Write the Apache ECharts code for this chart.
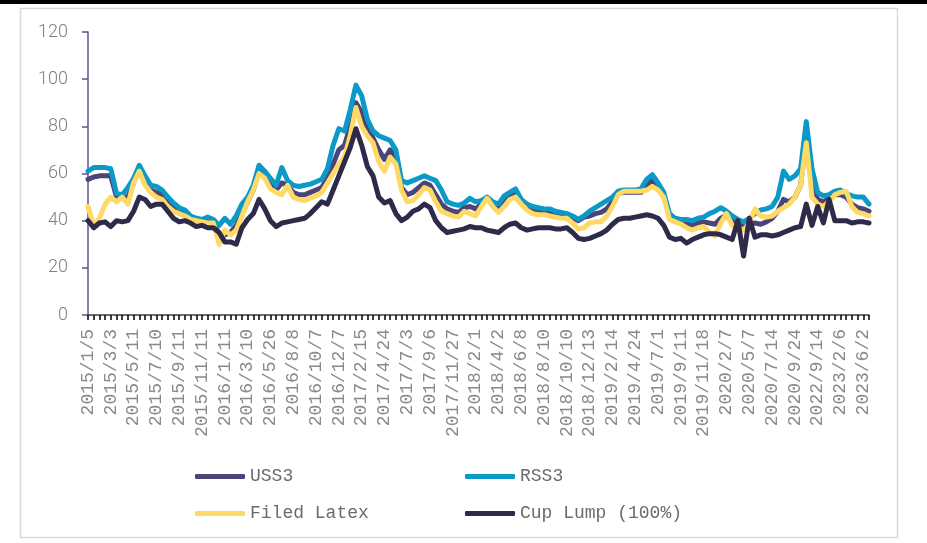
<!DOCTYPE html>
<html>
<head>
<meta charset="utf-8">
<script src="https://cdn.jsdelivr.net/npm/echarts@6/dist/echarts.min.js"></script>
<style>
html,body{margin:0;padding:0;background:#fff;}
#chart{width:927px;height:543px;}
</style>
</head>
<body>
<div id="chart"></div>
<script>
// Tick labels shown on the category axis (every 4th category)
const tickLabels = ["2015/1/5","2015/3/3","2015/5/11","2015/7/10","2015/9/11","2015/11/11","2016/1/11","2016/3/10","2016/5/26","2016/8/8","2016/10/7","2016/12/7","2017/2/15","2017/4/24","2017/7/3","2017/9/6","2017/11/27","2018/2/1","2018/4/2","2018/6/8","2018/8/10","2018/10/10","2018/12/13","2019/2/14","2019/4/24","2019/7/1","2019/9/11","2019/11/18","2020/2/7","2020/5/7","2020/7/14","2020/9/24","2022/9/14","2023/2/6","2023/6/2"];

const seriesNames = ["USS3","RSS3","Filed Latex","Cup Lump (100%)"];

const uss3 = [57.5,58.5,59,59,59,50,50,50,56,62,
57,53,52,51,48,45.5,44,43,41,40.5,
40,40.5,39.5,34,34,35,38,43,48,53,
61,59,55,53,56,55,52,51,51,52,
53,54,58,64,70,72,80,90,86,79,
75,70,66,70,66,54,51,52,54,56,
55,51,47,45,44,43.5,45.5,46,45,47,
49.5,47,45,48,50.5,51.5,48,45.5,44.5,44,
43.5,43.5,43,42,42,41,40,41.5,42,43,
43.5,45,48,51.5,52,52,52,52,55,57,
54.5,50.5,41.5,40,39.5,39,38,39,39.5,39,
38.5,41,42.5,40,38.5,38,38.5,39,38.5,39.5,
41,44,49,48,50,55,75,55,49,48,
49.5,51,51,50,47,45.5,45,44];

const rss3 = [61,62.5,62.5,62.5,62,51.5,51,54,58,63.5,
59,55,54.5,53,50,47.5,45.5,44.5,42,41,
40.5,41.5,40.5,38,41,38.5,42,47,50,55,
63.5,61,58,55,62.5,57,55,54.5,55,55.5,
56.5,57.5,62,72,79,78,87,97.5,93,83,
78,76,75,74,70,57,56,57,58,59,
58,57,53,48,47,46.5,47.5,49.5,48,48.5,
50,48,47,50.5,52,53.5,49,47,46,45.5,
45,45,44,43.5,43,42,40.5,42,44,45.5,
47,48.5,50,52.5,53,53,53,53.5,57.5,59.5,
56,52,43,41,40.5,40.5,40,41,41.5,43,
44,45.5,44,42,40.5,39.5,41,43,44.5,45,
46,50,61,57.5,59,62,82,62,52,50.5,
51,52.5,53,51.5,50.5,50,50,47];

const filedLatex = [46,38,41,47,50,48,50,47,56,61,
55,52,50,49,46,44,43,42,40.5,40,
39.5,39,39,30,36,34,36,42,48,53,
60,58,53.5,52,51,55,50,49,48.5,49.5,
50.5,52,56,60,64,67,76,88,80,76,
73,65,61,67,64,53,48,48.5,51,54,
53,48,44,43,42,41.5,44,43,42,46,
49.5,46,43.5,46,49,50,47,44.5,43,42.5,
42.5,42,41.5,41,41,39,36.5,37,39,39.5,
39.5,42,46,51,52.5,52.5,52.5,52.5,53,54.5,
53,50,40.5,39.5,38.5,37,36,37,37.5,35,
33.5,39,43,38,37,36,39,45,42,41.5,
42,44,45.5,47,50,55,73,50,47,46,
48,51,52,52.5,46,43.5,43,42];

const cupLump = [40,37,39,39.5,37.5,40,39.5,40,44,50,
49,46,47,47,44,41,39.5,40,39,37.5,
38,37,37,35,31,31,30,37,40.5,43,
49,45,40,37.5,39,39.5,40,40.5,41,43,
45.5,48,47,53,59,65,71,79,72,63,
59,50,47.5,48.5,43,40,41.5,44,45,47,
45.5,40,37,35,35.5,36,36.5,37.5,37,37,
36,35.5,35,37,38.5,39,37,36,36.5,37,
37,37,36.5,36.5,37,35,32.5,32,32.5,33.5,
34.5,36,38.5,40.5,41,41,41.5,42,42.5,42,
41,38,33,32,32.5,30.5,32,33,34,34.5,
34.5,34,33,32,40,25,41,33,34,34,
33.5,34,35,36,37,37.5,47,38,46,39,
49,40,40,40,39,39.5,39.5,39];

const yTicks = {min: 0, max: 120, interval: 20};

const colors = ["#4B4478", "#0B9AC8", "#FFD966", "#2E2B4A"];
const values = [uss3, rss3, filedLatex, cupLump];

const N = uss3.length;
const categories = [];
for (let i = 0; i < N; i++) {
  categories.push(i % 4 === 0 && tickLabels[i / 4] !== undefined ? tickLabels[i / 4] : "");
}

const chart = echarts.init(document.getElementById('chart'), null, {renderer: 'canvas'});
const monoFont = "'Liberation Mono', 'DejaVu Sans Mono', monospace";

chart.setOption({
  animation: false,
  backgroundColor: '#ffffff',
  graphic: [
    {type: 'rect', shape: {x: 0, y: 0, width: 927, height: 4}, style: {fill: '#000'}, silent: true},
    {type: 'rect', shape: {x: 20.5, y: 8.5, width: 877, height: 529}, style: {fill: 'none', stroke: '#d9d9d9', lineWidth: 1.5}, silent: true}
  ],
  grid: {left: 88, right: 58, top: 32, bottom: 228, containLabel: false, outerBoundsMode: 'none'},
  legend: {
    left: 195, top: 463, width: 560, padding: 0,
    itemWidth: 50, itemHeight: 5, itemGap: 10,
    icon: 'roundRect',
    textStyle: {fontFamily: monoFont, fontSize: 18, color: '#6b6b6b', width: 205, lineHeight: 27},
    data: seriesNames
  },
  xAxis: {
    type: 'category',
    data: categories,
    boundaryGap: false,
    axisLine: {lineStyle: {color: '#3f3f3f', width: 1.5}},
    axisTick: {show: true, interval: 0, length: 5, lineStyle: {color: '#000', width: 1.5}},
    axisLabel: {interval: 3, rotate: 90, margin: 14, fontFamily: monoFont, fontSize: 18, color: '#8a8a8a'},
    splitLine: {show: false}
  },
  yAxis: {
    type: 'value',
    min: yTicks.min, max: yTicks.max, interval: yTicks.interval,
    axisLine: {show: true, lineStyle: {color: '#5A5488', width: 1.5}},
    axisTick: {show: true, length: 6, lineStyle: {color: '#5A5488', width: 1.5}},
    axisLabel: {margin: 20, fontFamily: "Roboto, 'Open Sans', sans-serif", fontWeight: 300, fontSize: 18, color: '#7f7f7f'},
    splitLine: {show: false}
  },
  series: seriesNames.map((name, k) => ({
    name: name,
    type: 'line',
    data: values[k],
    symbol: 'none',
    showSymbol: false,
    color: colors[k],
    lineStyle: {width: 5, color: colors[k], join: 'round', cap: 'round'},
    z: 2 + k
  }))
});
</script>
</body>
</html>
